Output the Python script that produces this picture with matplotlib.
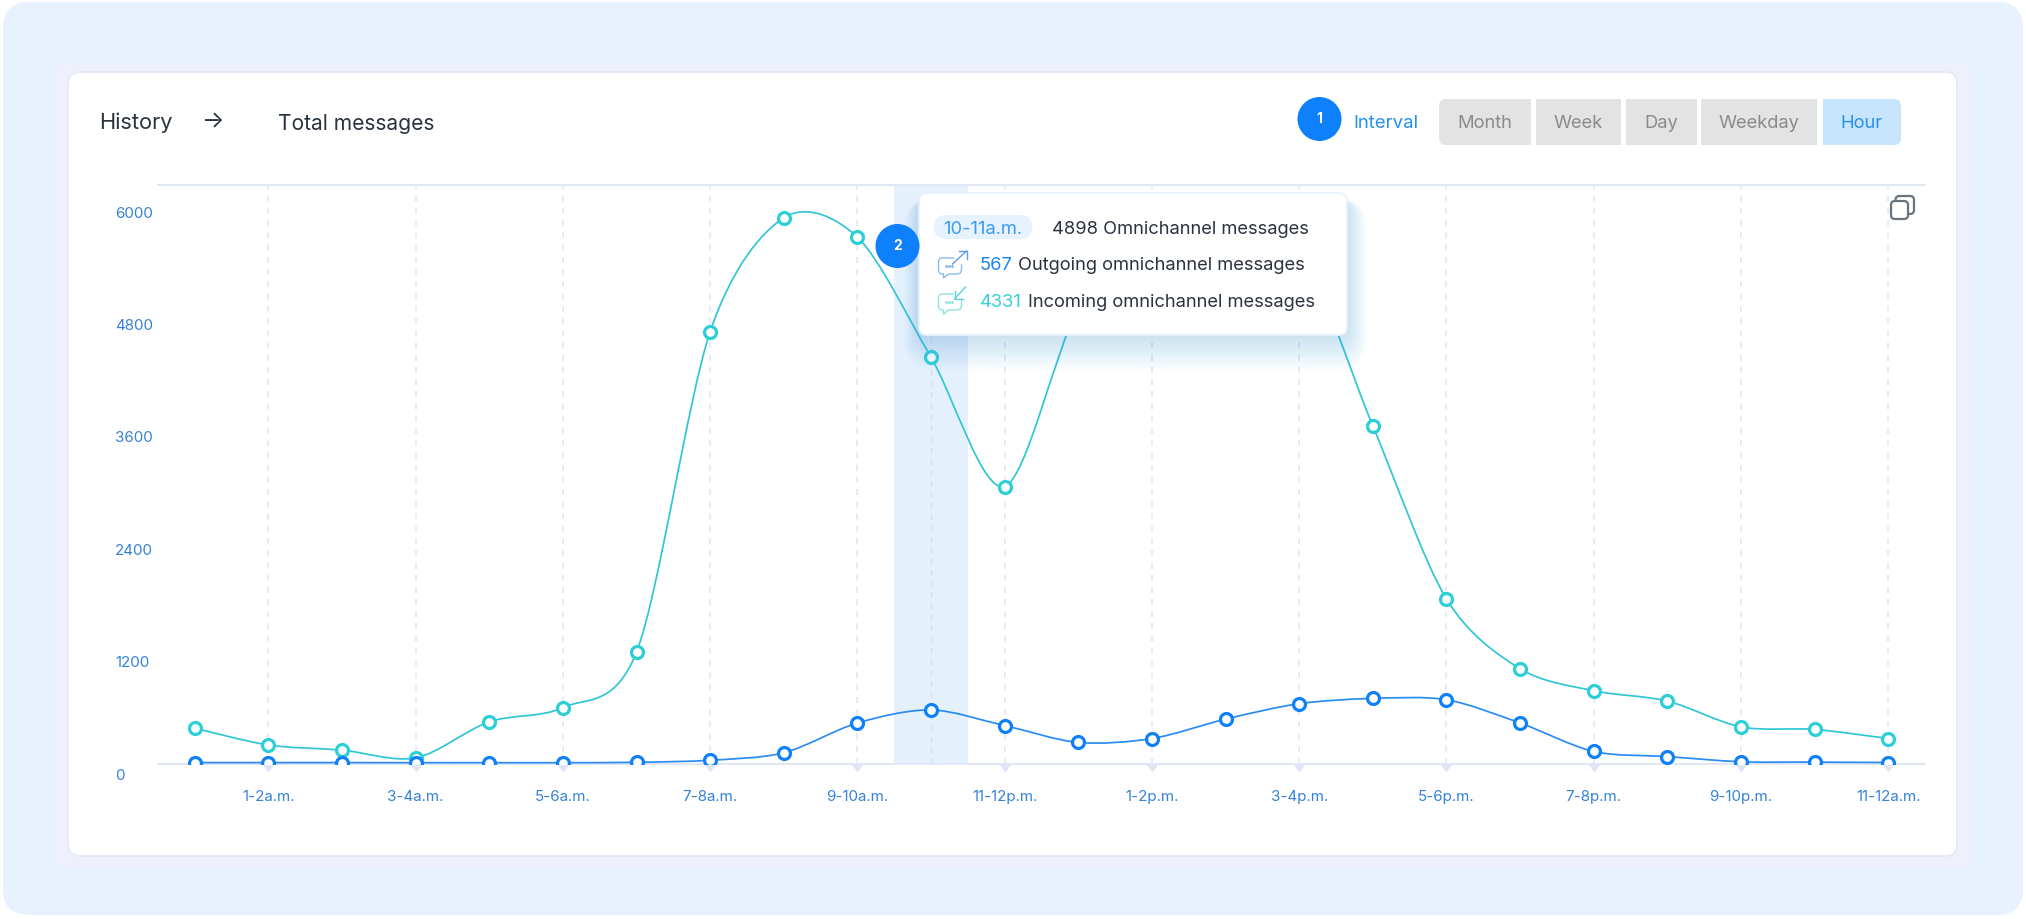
import numpy as np
import matplotlib
matplotlib.use("Agg")
import matplotlib.pyplot as plt
from matplotlib.patches import FancyBboxPatch, Circle, PathPatch, Rectangle
from matplotlib.path import Path
from matplotlib.transforms import ScaledTranslation

plt.rcParams['font.family'] = ['Inter', 'DejaVu Sans']

W, H = 2026, 920

# data, points 12-15 sit behind the tooltip so they are guesses
incoming = [372, 193, 138, 55, 441, 593, 1186, 4607, 5821, 5614, 4331, 2952,
            4850, 5600, 5800, 5500, 3600, 1752, 1007, 772, 662, 386, 359, 262]
outgoing = [5, 5, 5, 4, 4, 4, 8, 30, 110, 428, 567, 400,
            220, 262, 469, 634, 690, 676, 428, 124, 69, 14, 10, 6]
x_labels = ['1-2a.m.', '3-4a.m.', '5-6a.m.', '7-8a.m.', '9-10a.m.', '11-12p.m.',
            '1-2p.m.', '3-4p.m.', '5-6p.m.', '7-8p.m.', '9-10p.m.', '11-12a.m.']
y_ticks = [0, 1200, 2400, 3600, 4800, 6000]
buttons = ['Month', 'Week', 'Day', 'Weekday', 'Hour']

BLUE = '#0f80fb'
CYAN = '#2ccfd6'
CYAN_LINE = '#30c6d4'
TICK_BLUE = '#3482d8'
DARK = '#2b3340'
LAVENDER = '#dfe5f5'


def px_axes(fig, zorder):
    ax = fig.add_axes([0, 0, 1, 1], zorder=zorder)
    ax.set_xlim(0, W)
    ax.set_ylim(H, 0)
    ax.axis('off')
    ax.patch.set_alpha(0)
    return ax


def rbox(ax, x0, y0, x1, y1, r, **kw):
    p = FancyBboxPatch((x0, y0), x1 - x0, y1 - y0,
                       boxstyle=f'round,pad=0,rounding_size={r}', **kw)
    ax.add_patch(p)
    return p


def smooth_path(xs, ys, k=0.15):
    # catmull-rom as bezier segments, the drawn curve goes through every value
    pts = np.column_stack([xs, ys]).astype(float)
    verts = [pts[0]]
    codes = [Path.MOVETO]
    for i in range(len(pts) - 1):
        prev = pts[max(i - 1, 0)]
        nxt = pts[min(i + 2, len(pts) - 1)]
        verts += [pts[i] + (pts[i + 1] - prev) * k,
                  pts[i + 1] - (nxt - pts[i]) * k,
                  pts[i + 1]]
        codes += [Path.CURVE4, Path.CURVE4, Path.CURVE4]
    return Path(verts, codes)


def msg_icon(ax, x, y, body, arrow, incoming_arrow=False):
    # little chat bubble, x,y is the top left of the bubble
    b = [(x + 15, y), (x + 3, y), (x + 1, y + 1), (x, y + 3), (x, y + 13), (x + 1, y + 15), (x + 3, y + 16),
         (x + 5, y + 16), (x + 5, y + 20), (x + 10, y + 16), (x + 19, y + 16), (x + 22, y + 15), (x + 23, y + 12),
         (x + 23, y + 7)]
    ax.plot(*zip(*b), color=body, lw=1.0, solid_joinstyle='round')
    ax.plot([x + 7, x + 10, x + 13], [y + 8, y + 8, y + 8], ls='none', marker='o', ms=1.1, color=body)
    if incoming_arrow:
        s, e = (x + 27, y - 7), (x + 16, y + 5)
        ax.plot([e[0], e[0], e[0] + 8], [e[1] - 8, e[1], e[1]], color=arrow, lw=1.0)
    else:
        s, e = (x + 14, y + 6), (x + 28, y - 7)
        ax.plot([e[0] - 8, e[0], e[0]], [e[1], e[1], e[1] + 8], color=arrow, lw=1.0)
    ax.plot([s[0], e[0]], [s[1], e[1]], color=arrow, lw=1.0)


fig = plt.figure(figsize=(W / 100, H / 100), dpi=100, facecolor='white')

# background and card
bg = px_axes(fig, 0)
rbox(bg, 3, 3, 2023, 916, 26, fc='#e7f2fe', ec='none')
rbox(bg, 56, 65, 1972, 868, 10, fc='#eef0fb', ec='none')
rbox(bg, 68, 73, 1957, 857, 12, fc='white', ec='#e4e8f5', lw=1.2)

bg.text(99, 123, 'History', fontsize=15.7, color=DARK, va='center')
bg.text(201, 122, '→', fontsize=17, color=DARK, va='center')
bg.text(278, 124, 'Total messages', fontsize=15.1, color=DARK, va='center')

bg.add_patch(Circle((1319.5, 120), 22, fc=BLUE, ec='none'))
bg.text(1319.5, 119, '1', fontsize=10, color='white', fontweight='bold', ha='center', va='center')
bg.text(1353, 124, 'Interval', fontsize=13.4, color='#2490f0', va='center')

btn_x = [(1439, 1531), (1535.5, 1621), (1626, 1697), (1701, 1817), (1822.5, 1901)]
for name, (x0, x1) in zip(buttons, btn_x):
    active = name == 'Hour'
    fc = '#c6e4fb' if active else '#e3e3e3'
    tc = '#2a90ea' if active else '#8a8a8a'
    if name == 'Month':
        rbox(bg, x0, 100, x0 + 20, 146, 7, fc=fc, ec='none')
        bg.add_patch(Rectangle((x0 + 10, 100), x1 - x0 - 10, 46, fc=fc, ec='none'))
    elif active:
        rbox(bg, x1 - 20, 100, x1, 146, 7, fc=fc, ec='none')
        bg.add_patch(Rectangle((x0, 100), x1 - x0 - 10, 46, fc=fc, ec='none'))
    else:
        bg.add_patch(Rectangle((x0, 100), x1 - x0, 46, fc=fc, ec='none'))
    bg.text((x0 + x1) / 2, 124, name, fontsize=13.2, color=tc, ha='center', va='center')

# chart, ylim starts a bit under 0 so the zero line sits just above the axis line
ax = fig.add_axes([158 / W, 1 - 765 / H, (1925 - 158) / W, (765 - 186) / H], zorder=1)
ax.patch.set_alpha(0)
idx = np.arange(len(incoming))
ax.set_xlim(-0.5, 23.5)
ax.set_ylim(-10, 6171)
for s in ['left', 'right']:
    ax.spines[s].set_visible(False)
ax.spines['top'].set_color(LAVENDER)
ax.spines['bottom'].set_color(LAVENDER)
ax.spines['top'].set_linewidth(1.3)
ax.spines['bottom'].set_linewidth(1.3)

hover = 10
ax.axvspan(hover - 0.5, hover + 0.5, color='#e4f1fd', lw=0, zorder=0)
tick_pos = idx[1::2]
ax.vlines(hover, -10, 6171, color='#d3def3', lw=1, ls=(0, (4, 4)), zorder=1)
ax.vlines(tick_pos, -10, 6171, color=LAVENDER, lw=1.1, ls=(0, (4, 4)), zorder=1)
ax.plot(tick_pos, np.full(len(tick_pos), -10), ls='none', marker=11, ms=8, color=LAVENDER,
        mec='none', clip_on=False, zorder=1)

ax.add_patch(PathPatch(smooth_path(idx, incoming), fc='none', ec=CYAN_LINE, lw=1.25, zorder=3))
ax.add_patch(PathPatch(smooth_path(idx, outgoing), fc='none', ec='#2a8cf2', lw=1.25, zorder=4))
ax.plot(idx, incoming, ls='none', marker='o', ms=8.6, mew=2.3, mfc='white', mec=CYAN, zorder=5)
ax.plot(idx, outgoing, ls='none', marker='o', ms=8.6, mew=2.3, mfc='white', mec=BLUE, zorder=6)

ax.set_xticks(tick_pos, x_labels)
ax.set_yticks(y_ticks, [str(v) for v in y_ticks])
ax.tick_params(axis='x', length=0, pad=18, labelsize=10.9, labelcolor=TICK_BLUE)
ax.tick_params(axis='y', length=0, pad=31, labelsize=10.9, labelcolor=TICK_BLUE)
shift = ScaledTranslation(0, -10 / 100, fig.dpi_scale_trans)
for lab in ax.get_yticklabels():
    lab.set_ha('left')
    lab.set_transform(lab.get_transform() + shift)

# tooltip, badge, copy icon
fg = px_axes(fig, 2)
tx0, ty0, tx1, ty1 = 919, 194, 1347, 336
for k in range(14):
    g = 2 + k * 2.4
    rbox(fg, tx0 - g * 0.45, ty0 + 6, tx1 + g * 0.6, ty1 + g + 2, 10 + g * 0.6,
         fc='#4a9df0', ec='none', alpha=0.018)
rbox(fg, tx0, ty0, tx1, ty1, 8, fc='white', ec='#e8f2fd', lw=1.3)
rbox(fg, 934, 216, 1032, 240, 12, fc='#e6f2fe', ec='none')
fg.text(983, 229, '10-11a.m.', fontsize=13.2, color='#3d9cf0', ha='center', va='center')
fg.text(1052.5, 229, '4898 Omnichannel messages', fontsize=13.2, color=DARK, va='center')
fg.text(980, 266, '567', fontsize=13.2, color='#1a85f5', va='center')
fg.text(1018.5, 266, 'Outgoing omnichannel messages', fontsize=13.2, color=DARK, va='center')
fg.text(980, 303, '4331', fontsize=13.2, color='#37cfd8', va='center')
fg.text(1028, 303, 'Incoming omnichannel messages', fontsize=13.2, color=DARK, va='center')
msg_icon(fg, 938.5, 259, '#8db8f0', '#5b9cf0')
msg_icon(fg, 938.5, 295, '#90e3e3', '#55d3d8', incoming_arrow=True)

fg.add_patch(Circle((897.5, 247), 22, fc=BLUE, ec='none'))
fg.text(897.5, 246, '2', fontsize=10, color='white', fontweight='bold', ha='center', va='center')

rbox(fg, 1895.5, 197, 1914, 215, 4, fc='white', ec='#69727f', lw=1.6)
rbox(fg, 1891, 202, 1908, 220, 4, fc='white', ec='#69727f', lw=1.6)

fig.savefig('out.png', dpi=100)
